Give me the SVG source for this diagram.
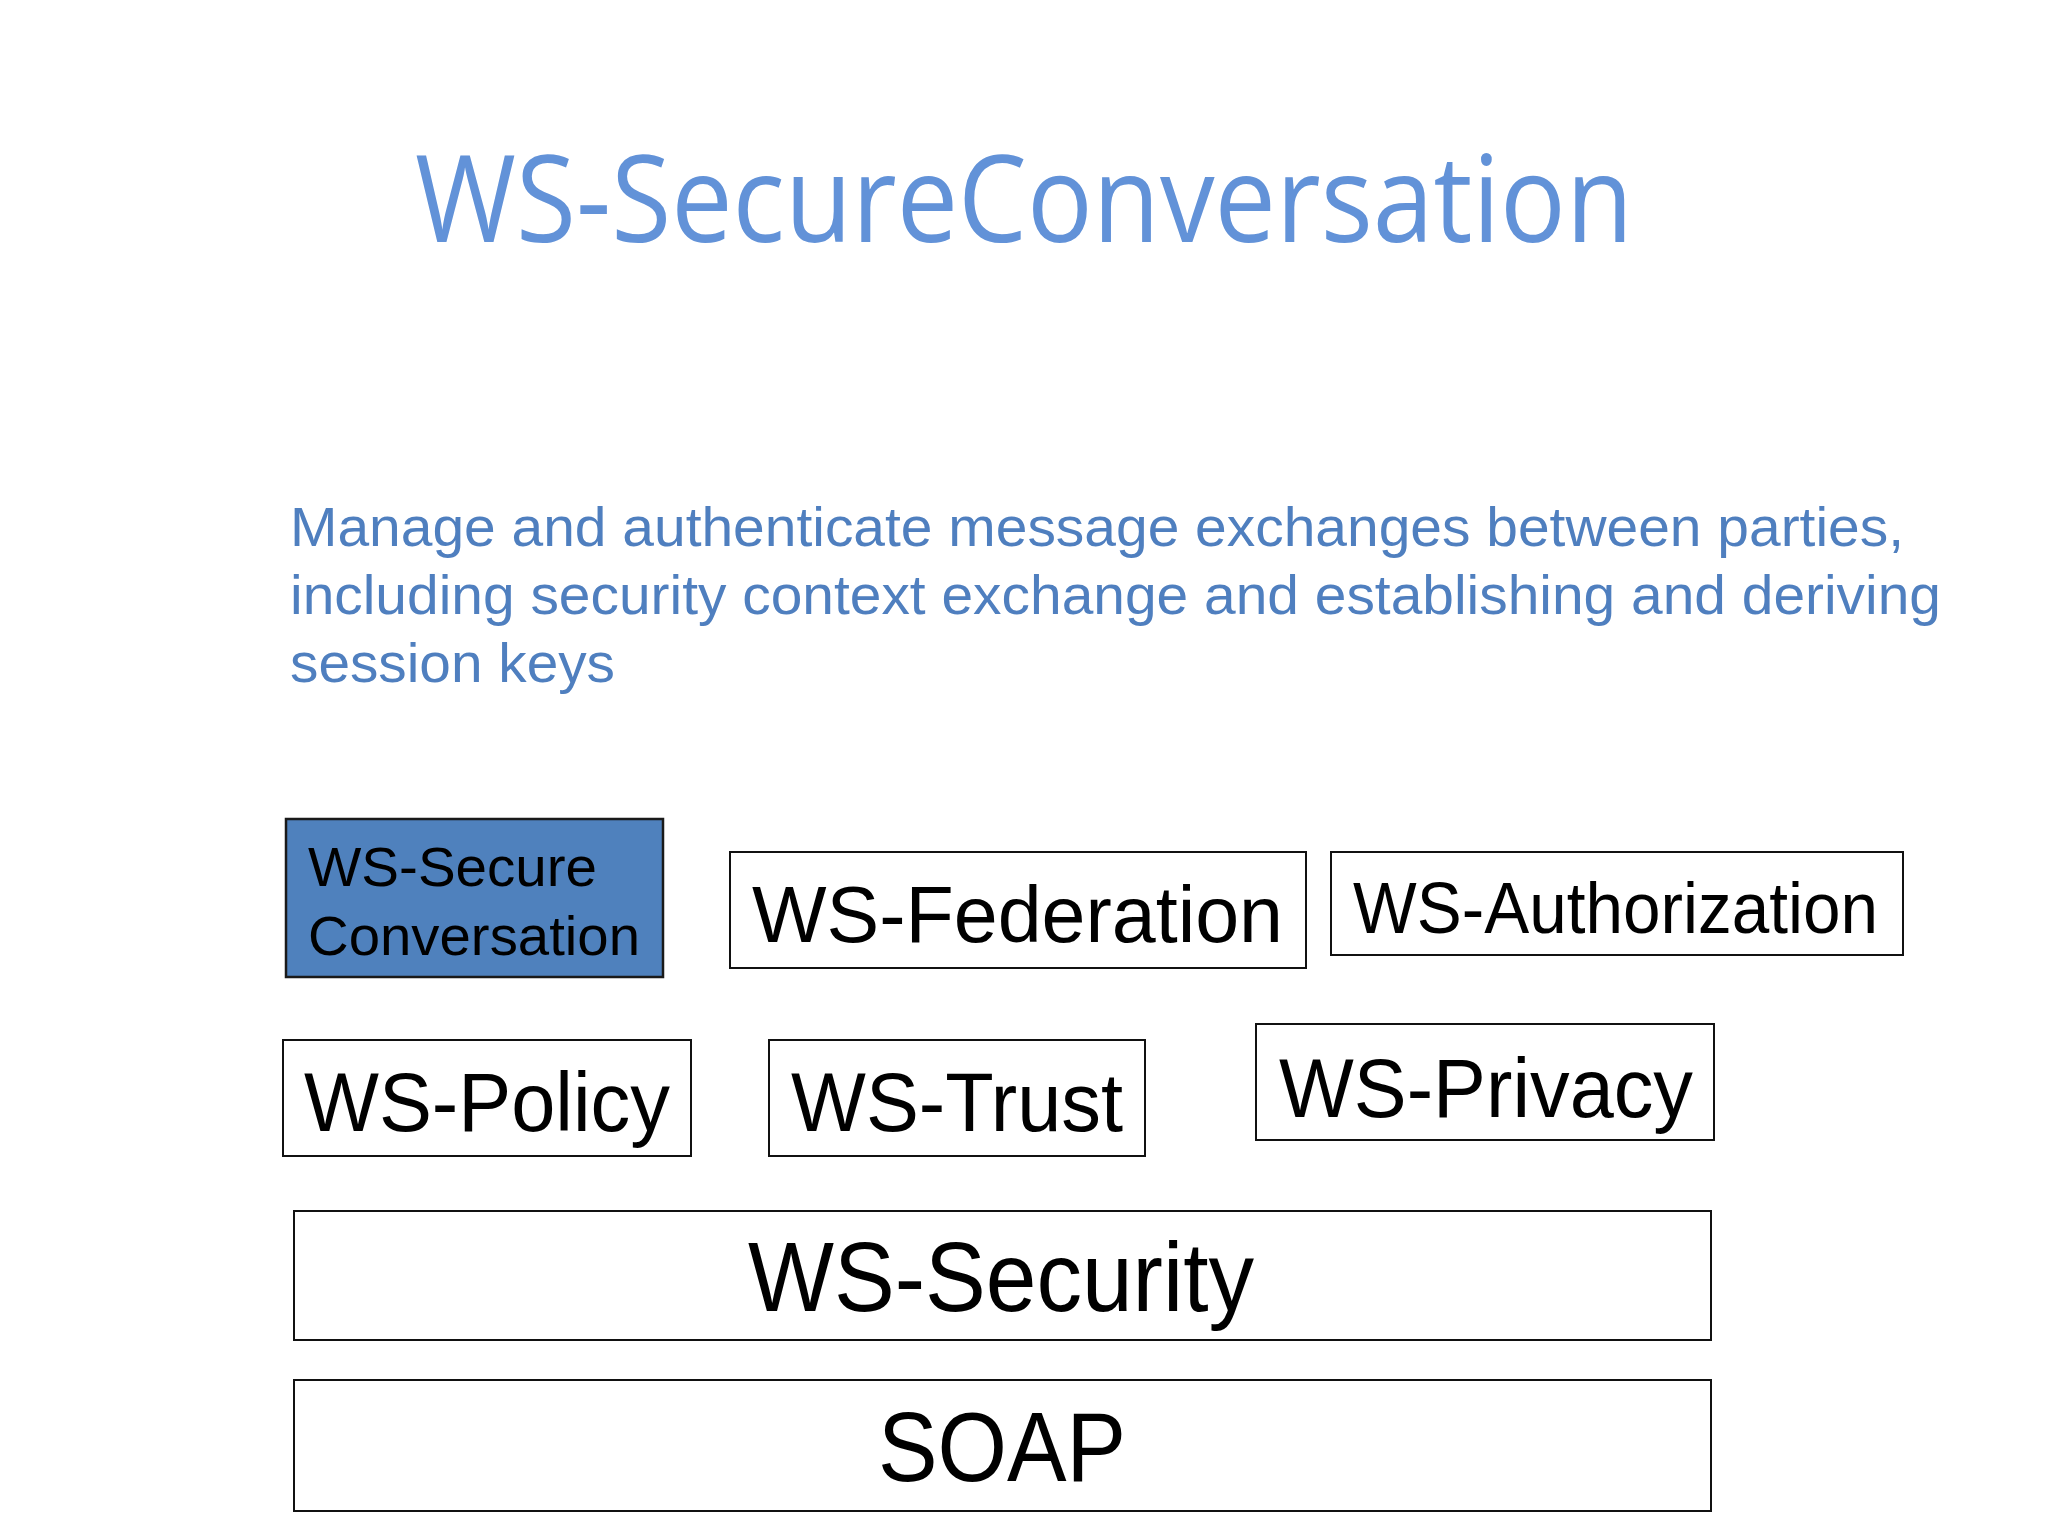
<svg xmlns="http://www.w3.org/2000/svg" width="2048" height="1536" viewBox="0 0 2048 1536">
<style>
.box{fill:#ffffff;stroke:#111111;stroke-width:2}
.hl{fill:#4F81BD;stroke:#1a1a1a;stroke-width:2.5}
.lbl{font-family:"Liberation Sans",Arial,sans-serif;fill:#000000}
.title{font-family:"Open Sans","Noto Sans",sans-serif;fill:#6292D8}
.para{font-family:"Liberation Sans",Arial,sans-serif;fill:#4F7FBF;font-size:56px}
</style>
<rect width="2048" height="1536" fill="#ffffff"/>
<text class="title" x="415" y="242" font-size="120" textLength="1218" lengthAdjust="spacingAndGlyphs">WS-SecureConversation</text>
<g id="description">
<text class="para" x="290" y="546" textLength="1614" lengthAdjust="spacingAndGlyphs">Manage and authenticate message exchanges between parties,</text>
<text class="para" x="290" y="614" textLength="1651" lengthAdjust="spacingAndGlyphs">including security context exchange and establishing and deriving</text>
<text class="para" x="290" y="682" textLength="325" lengthAdjust="spacingAndGlyphs">session keys</text>
</g>
<g id="ws-secureconversation">
<rect class="hl" x="286" y="819" width="377" height="158"/>
<text class="lbl" x="308" y="886" font-size="56" textLength="289" lengthAdjust="spacingAndGlyphs">WS-Secure</text>
<text class="lbl" x="308" y="955" font-size="56" textLength="332" lengthAdjust="spacingAndGlyphs">Conversation</text>
</g>
<g id="ws-federation">
<rect class="box" x="730" y="852" width="576" height="116"/>
<text class="lbl" x="752" y="942" font-size="80" textLength="531" lengthAdjust="spacingAndGlyphs">WS-Federation</text>
</g>
<g id="ws-authorization">
<rect class="box" x="1331" y="852" width="572" height="103"/>
<text class="lbl" x="1353" y="933" font-size="73" textLength="525" lengthAdjust="spacingAndGlyphs">WS-Authorization</text>
</g>
<g id="ws-policy">
<rect class="box" x="283" y="1040" width="408" height="116"/>
<text class="lbl" x="304" y="1131" font-size="84" textLength="366" lengthAdjust="spacingAndGlyphs">WS-Policy</text>
</g>
<g id="ws-trust">
<rect class="box" x="769" y="1040" width="376" height="116"/>
<text class="lbl" x="791" y="1131" font-size="84" textLength="332" lengthAdjust="spacingAndGlyphs">WS-Trust</text>
</g>
<g id="ws-privacy">
<rect class="box" x="1256" y="1024" width="458" height="116"/>
<text class="lbl" x="1279" y="1117" font-size="84" textLength="414" lengthAdjust="spacingAndGlyphs">WS-Privacy</text>
</g>
<g id="ws-security">
<rect class="box" x="294" y="1211" width="1417" height="129"/>
<text class="lbl" x="748" y="1311" font-size="98" textLength="506" lengthAdjust="spacingAndGlyphs">WS-Security</text>
</g>
<g id="soap">
<rect class="box" x="294" y="1380" width="1417" height="131"/>
<text class="lbl" x="878" y="1481" font-size="98" textLength="248" lengthAdjust="spacingAndGlyphs">SOAP</text>
</g>
<g id="connectors"/>
</svg>
